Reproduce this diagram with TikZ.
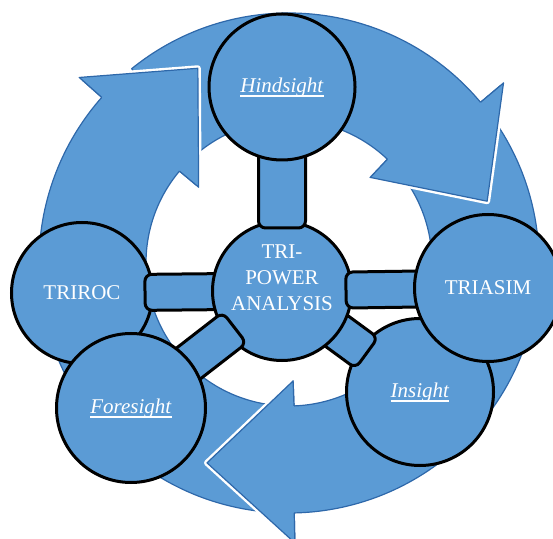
\documentclass[tikz,border=0pt]{standalone}
\usepackage{fontspec}
\setmainfont{Liberation Serif}
\usetikzlibrary{calc}

\definecolor{ringblue}{RGB}{91,155,213}
\definecolor{ringedge}{RGB}{46,104,170}

% underline at a fixed depth, crossing the descenders
\newcommand{\lined}[1]{\setbox0=\hbox{#1}\rlap{\rule[-4.5pt]{\wd0}{1.1pt}}\box0}

\begin{document}
\begin{tikzpicture}[x=1pt,y=1pt,
    ball/.style={circle, draw=black, line width=3pt, fill=ringblue, inner sep=0pt,
      text=white, font=\fontsize{21}{26}\selectfont},
    spokebar/.style={draw=black, line width=3pt, fill=ringblue, rounded corners=7pt},
    arrowedge/.style={draw=ringedge, line width=1.2pt, line join=round}]
  \useasboundingbox (0,0) rectangle (553,538);

  \def\rin{143}
  \def\rout{250}
  \def\rbi{118}
  \def\rbo{280}
  \def\hlen{87pt}

  \coordinate (O) at (289,275);

  % tail angle, inner and outer angle of the head base
  \def\headpts#1#2{%
    \path ($(O)+(#1:\rbi)$) coordinate (bi) ($(O)+(#2:\rbo)$) coordinate (bo)
      ($(bi)!0.5!(bo)$) coordinate (bm) ($(bm)!\hlen!-90:(bo)$) coordinate (tip);}
  \def\ringarrow#1#2#3{%
    \headpts{#2}{#3}
    \path[arrowedge, fill=ringblue]
      ($(O)+(#1:\rout)$) arc[start angle=#1, end angle=#3, radius=\rout]
      -- (bo) -- (tip) -- (bi) -- ($(O)+(#2:\rin)$)
      arc[start angle=#2, end angle=#1, radius=\rin] -- cycle;}
  \def\headtop#1#2{%
    \headpts{#1}{#2}
    \draw[white, line width=6pt, line join=round] (bo) -- (tip) -- (bi);
    \fill[ringblue] ($(O)+(#2:\rout)$) -- (bo) -- (tip) -- (bi) -- ($(O)+(#1:\rin)$) -- cycle;
    \draw[arrowedge] ($(O)+(#2:\rout)$) -- (bo) -- (tip) -- (bi) -- ($(O)+(#1:\rin)$);}

  \ringarrow{266}{140}{138.5}
  \ringarrow{129}{46.5}{40}
  \ringarrow{33}{-88}{-88.8}
  \headtop{140}{138.5}
  \headtop{46.5}{40}
  \headtop{-88}{-88.8}

  \coordinate (ctr) at (282,247);
  \coordinate (hind) at (282,451);
  \coordinate (triroc) at (82,245);
  \coordinate (triasim) at (488,250);
  \coordinate (insight) at (420,146);
  \coordinate (foresight) at (131,130);

  % from, to, start, end, half width
  \def\spoke#1#2#3#4#5{%
    \path ($(#1)!#3!(#2)$) coordinate (sa) ($(#1)!#4!(#2)$) coordinate (sb);
    \draw[spokebar] ($(sa)!#5!90:(sb)$) -- ($(sb)!#5!-90:(sa)$)
      -- ($(sb)!#5!90:(sa)$) -- ($(sa)!#5!-90:(sb)$) -- cycle;}

  \node[ball, minimum size=141] (triroc) at (triroc) {TRIROC};
  \node[ball, minimum size=147] (insight) at (insight) {\lined{\textit{Insight}}};

  \spoke{ctr}{triroc}{40pt}{137pt}{18pt}
  \spoke{ctr}{insight}{40pt}{105pt}{19pt}

  \node[ball, minimum size=139] (ctr) at (ctr) {};
  \node[text=white, align=center, font=\fontsize{21}{26}\selectfont] (ctrtext)
    at ($(ctr)+(0,13)$) {TRI-\\POWER\\ANALYSIS};

  \spoke{ctr}{hind}{63pt}{150pt}{23.5pt}
  \spoke{ctr}{triasim}{64pt}{150pt}{18pt}
  \spoke{ctr}{foresight}{60pt}{140pt}{19.5pt}

  \node[ball, minimum size=146] (hind) at (hind) {\lined{\textit{Hindsight}}};
  \node[ball, minimum size=147] (triasim) at (triasim) {TRIASIM};
  \node[ball, minimum size=149] (foresight) at (foresight) {\lined{\textit{Foresight}}};
\end{tikzpicture}
\end{document}
